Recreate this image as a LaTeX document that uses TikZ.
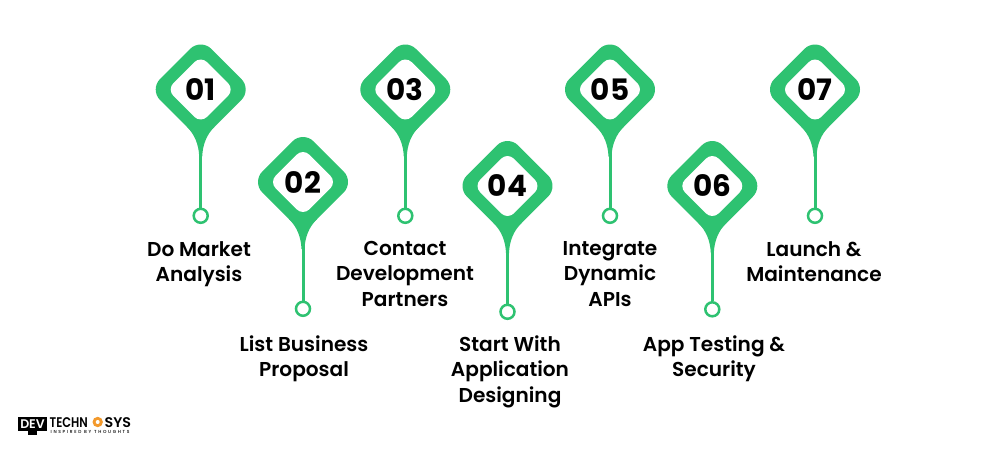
\documentclass[tikz,border=0pt]{standalone}
\usepackage{fontspec}
\setmainfont{Poppins}[BoldFont={Poppins SemiBold}]
\newfontfamily\numfont{Poppins}[UprightFont={* Bold}]
\newfontfamily\tagfont{Poppins}[UprightFont={* Medium},LetterSpace=38]
\definecolor{pin}{HTML}{2EC271}
\definecolor{logoorange}{HTML}{F39A2D}
\tikzset{
  pinbody/.style={fill=pin,draw=none},
  pinhole/.style={fill=white,draw=none},
  stem/.style={draw=pin,line width=3pt},
  endring/.style={circle,draw=pin,fill=white,line width=2.5pt,minimum size=14pt,inner sep=0pt},
  numlabel/.style={font=\fontsize{29.5pt}{29.5pt}\numfont,text=black,inner sep=0pt},
  steplabel/.style={font=\fontsize{20.1pt}{25.4pt}\selectfont\bfseries,text=black,align=center,inner sep=0pt,anchor=north},
  logobig/.style={font=\fontsize{14pt}{14pt}\selectfont\bfseries,text=black,inner sep=0pt},
  logosmall/.style={font=\fontsize{4.4pt}{4.4pt}\tagfont,text=black,inner sep=0pt},
  logodevtext/.style={font=\fontsize{12.5pt}{12.5pt}\selectfont\bfseries,text=white,inner sep=0pt}
}
\newcommand{\pinshape}[5]{% id, x, y, ring y, number
  \begin{scope}[shift={(#2,#3)}]
    \fill[pinbody,rounded corners=15pt] (0,-51.2) -- (51.2,0) -- (12,39.2) -- (0,51.2) -- (-12,39.2) -- (-51.2,0) -- cycle;
    \fill[pinbody] (-14,37) .. controls (-6,45) and (-2,55) .. (-1.5,67) -- (1.5,67) .. controls (2,55) and (6,45) .. (14,37) -- cycle;
    \fill[pinhole,rounded corners=9pt] (0,-33.7) -- (33.7,0) -- (0,33.7) -- (-33.7,0) -- cycle;
    \coordinate (s#1) at (0,60);
  \end{scope}
  \node[numlabel] (n#1) at (#2,#3) {#5};
  \node[endring] (c#1) at (#2,#4) {};
  \draw[stem] (s#1) -- (c#1);
}
\begin{document}
\begin{tikzpicture}[x=1pt,y=-1pt]
\useasboundingbox (0,0) rectangle (1000,450);
\fill[white] (0,0) rectangle (1000,450);
\pinshape{1}{200.7}{89.5}{215.8}{01}
\pinshape{2}{303}{182}{308.8}{02}
\pinshape{3}{405.3}{89.5}{215.8}{03}
\pinshape{4}{507.5}{186}{311.8}{04}
\pinshape{5}{610}{89.5}{215.8}{05}
\pinshape{6}{712.3}{186}{309.3}{06}
\pinshape{7}{815}{89.5}{215.8}{07}
\node[steplabel] (t1) at (199,241) {Do Market\\Analysis};
\node[steplabel] (t2) at (304,335.5) {List Business\\Proposal};
\node[steplabel] (t3) at (405,241) {Contact\\Development\\Partners};
\node[steplabel] (t4) at (510,335.5) {Start With\\Application\\Designing};
\node[steplabel] (t5) at (610,241) {Integrate\\Dynamic\\APIs};
\node[steplabel] (t6) at (714,335.5) {App Testing \&\\Security};
\node[steplabel] (t7) at (814,241) {Launch \&\\Maintenance};
% logo
\fill[black] (18,417) rectangle (47,431);
\fill[black] (28,431) rectangle (37,435);
\node[logodevtext] (logodev) at (32.5,424) {DEV};
\node[logobig,anchor=base west] (logot) at (49.5,427) {\scalebox{0.82}[1]{TECHN}};
\fill[logoorange] (97.7,422) circle (5.2pt);
\fill[white] (97.7,422) circle (2pt);
\node[logobig,anchor=base west] (logos) at (104.5,427) {\scalebox{1.02}[1]{SYS}};
\node[logosmall,anchor=base west] (logotag) at (50.5,433) {INSPIRED BY THOUGHTS};
\end{tikzpicture}
\end{document}
